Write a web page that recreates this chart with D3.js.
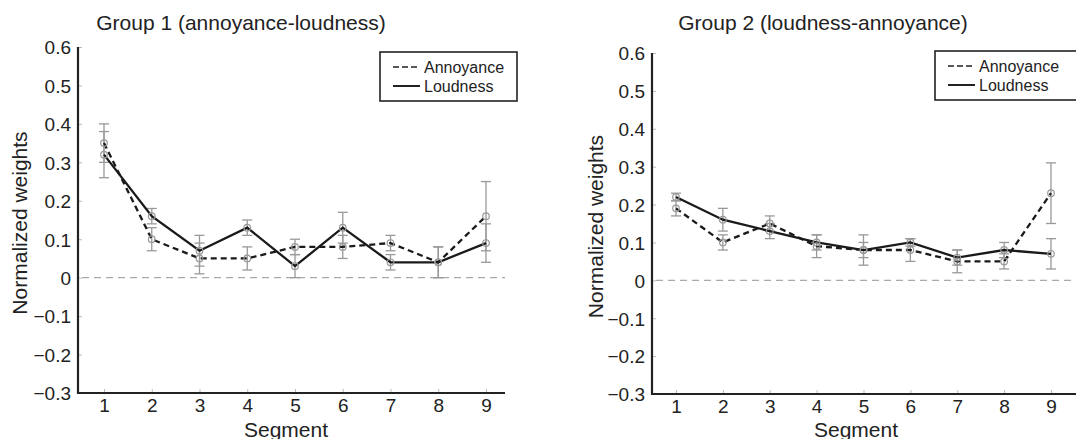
<!DOCTYPE html>
<html>
<head>
<meta charset="utf-8">
<script src="https://cdn.jsdelivr.net/npm/d3@7"></script>
<style>
  html, body { margin: 0; padding: 0; background: #fff; }
  svg { display: block; font-family: "Liberation Sans", Arial, Helvetica, sans-serif; }
</style>
</head>
<body>
<svg id="chart" width="1076" height="439"></svg>
<script>
// Segments 1..9
var segments = [1, 2, 3, 4, 5, 6, 7, 8, 9];
var yTicks = [-0.3, -0.2, -0.1, 0, 0.1, 0.2, 0.3, 0.4, 0.5, 0.6];

// Group 1 (annoyance-loudness)
var g1Annoyance    = [0.35, 0.10, 0.05, 0.05, 0.08, 0.08, 0.09, 0.04, 0.16];
var g1AnnoyanceErr = [0.05, 0.03, 0.04, 0.03, 0.02, 0.03, 0.02, 0.04, 0.09];
var g1Loudness     = [0.32, 0.16, 0.07, 0.13, 0.03, 0.13, 0.04, 0.04, 0.09];
var g1LoudnessErr  = [0.06, 0.02, 0.04, 0.02, 0.03, 0.04, 0.02, 0.04, 0.05];

// Group 2 (loudness-annoyance)
var g2Annoyance    = [0.19, 0.10, 0.15, 0.09, 0.08, 0.08, 0.05, 0.05, 0.23];
var g2AnnoyanceErr = [0.02, 0.02, 0.02, 0.03, 0.02, 0.03, 0.03, 0.02, 0.08];
var g2Loudness     = [0.22, 0.16, 0.13, 0.10, 0.08, 0.10, 0.06, 0.08, 0.07];
var g2LoudnessErr  = [0.01, 0.03, 0.02, 0.02, 0.04, 0.01, 0.02, 0.02, 0.04];

var svg = d3.select("#chart");

/** Draw one Matlab-style panel. */
function drawPanel(p) {
  var x = d3.scaleLinear().domain([1, 9]).range([p.x1, p.x9]);
  var y = d3.scaleLinear().domain([-0.3, 0.6]).range([p.yBottom, p.yTop]);
  var g = svg.append("g");

  // Title.
  g.append("text")
    .attr("x", p.titleX).attr("y", 30)
    .attr("font-size", 21).attr("fill", "#222")
    .attr("text-anchor", "middle")
    .text(p.title);

  // Zero reference line.
  g.append("line")
    .attr("x1", p.axisX + 4).attr("x2", p.xEnd)
    .attr("y1", y(0)).attr("y2", y(0))
    .attr("stroke", "#aaa").attr("stroke-width", 1.4)
    .attr("stroke-dasharray", "7 5");

  // Axes via d3 axis generators, then restyled.
  var yAxis = g.append("g")
    .attr("transform", "translate(" + p.axisX + ",0)")
    .call(d3.axisLeft(y).tickValues(yTicks).tickSize(-4).tickPadding(7)
      .tickFormat(function (d) { return d === 0 ? "0" : d3.format(".1f")(d); }));
  var xAxis = g.append("g")
    .attr("transform", "translate(0," + p.yBottom + ")")
    .call(d3.axisBottom(x).tickValues(segments).tickSize(-4).tickPadding(6)
      .tickFormat(d3.format("d")));

  [yAxis, xAxis].forEach(function (a) {
    a.select(".domain").remove();
    a.selectAll(".tick line").attr("stroke", "#bbb").attr("stroke-width", 1);
    a.selectAll(".tick text").attr("font-size", 19).attr("fill", "#222")
      .attr("font-family", "Liberation Sans, Arial, sans-serif");
  });
  yAxis.selectAll(".tick text").attr("dy", "0.36em");

  // Axis lines.
  g.append("line")
    .attr("x1", p.axisX).attr("x2", p.axisX)
    .attr("y1", p.yTop).attr("y2", p.yBottom + 1)
    .attr("stroke", "#222").attr("stroke-width", 2.2);
  g.append("line")
    .attr("x1", p.axisX).attr("x2", p.xEnd)
    .attr("y1", p.yBottom).attr("y2", p.yBottom)
    .attr("stroke", "#222").attr("stroke-width", 2.2);

  // Axis labels.
  g.append("text")
    .attr("x", p.segX).attr("y", 437)
    .attr("text-anchor", "middle").attr("font-size", 21).attr("fill", "#222")
    .text("Segment");
  g.append("text")
    .attr("transform", "translate(" + p.yLabelX + "," + ((p.yTop + p.yBottom) / 2 + 3) + ") rotate(-90)")
    .attr("text-anchor", "middle").attr("font-size", 21).attr("fill", "#222")
    .text("Normalized weights");

  var series = [
    { vals: p.annoyance, err: p.annoyanceErr, dash: "6 4" },
    { vals: p.loudness, err: p.loudnessErr, dash: null }
  ];

  // Error bars.
  series.forEach(function (s) {
    var eb = g.append("g").attr("stroke", "#999").attr("stroke-width", 1.3);
    segments.forEach(function (seg, i) {
      var cx = x(seg), hi = y(s.vals[i] + s.err[i]), lo = y(s.vals[i] - s.err[i]);
      eb.append("line").attr("x1", cx).attr("x2", cx).attr("y1", hi).attr("y2", lo);
      eb.append("line").attr("x1", cx - 5).attr("x2", cx + 5).attr("y1", hi).attr("y2", hi);
      eb.append("line").attr("x1", cx - 5).attr("x2", cx + 5).attr("y1", lo).attr("y2", lo);
    });
  });

  // Lines.
  var line = d3.line()
    .x(function (d, i) { return x(segments[i]); })
    .y(function (d) { return y(d); });
  series.forEach(function (s) {
    g.append("path")
      .attr("d", line(s.vals))
      .attr("fill", "none").attr("stroke", "#1a1a1a").attr("stroke-width", 2.3)
      .attr("stroke-dasharray", s.dash);
  });

  // Markers.
  series.forEach(function (s) {
    g.selectAll(null).data(s.vals).enter().append("circle")
      .attr("cx", function (d, i) { return x(segments[i]); })
      .attr("cy", function (d) { return y(d); })
      .attr("r", 3.3)
      .attr("fill", "none").attr("stroke", "#999").attr("stroke-width", 1.2);
  });

  // Legend.
  var lg = g.append("g").attr("transform", "translate(" + p.legendX + "," + p.legendY + ")");
  lg.append("rect").attr("width", p.legendW).attr("height", 49)
    .attr("fill", "#fff").attr("stroke", "#222").attr("stroke-width", 1.6);
  lg.append("line").attr("x1", 13).attr("x2", 40).attr("y1", 15).attr("y2", 15)
    .attr("stroke", "#222").attr("stroke-width", 1.6).attr("stroke-dasharray", "6 3");
  lg.append("line").attr("x1", 13).attr("x2", 40).attr("y1", 34).attr("y2", 34)
    .attr("stroke", "#222").attr("stroke-width", 2);
  lg.append("text").attr("x", 44).attr("y", 21).attr("font-size", 16).attr("fill", "#222").text("Annoyance");
  lg.append("text").attr("x", 44).attr("y", 40).attr("font-size", 16).attr("fill", "#222").text("Loudness");
}

drawPanel({
  title: "Group 1 (annoyance-loudness)", titleX: 241,
  axisX: 78, xEnd: 505, yTop: 47, yBottom: 393, x1: 104, x9: 486,
  yLabelX: 27, segX: 286,
  legendX: 380, legendY: 52, legendW: 137,
  annoyance: g1Annoyance, annoyanceErr: g1AnnoyanceErr,
  loudness: g1Loudness, loudnessErr: g1LoudnessErr
});

drawPanel({
  title: "Group 2 (loudness-annoyance)", titleX: 823,
  axisX: 652, xEnd: 1076, yTop: 53, yBottom: 394, x1: 676, x9: 1051,
  yLabelX: 603, segX: 856,
  legendX: 935, legendY: 51, legendW: 150,
  annoyance: g2Annoyance, annoyanceErr: g2AnnoyanceErr,
  loudness: g2Loudness, loudnessErr: g2LoudnessErr
});
</script>
</body>
</html>
